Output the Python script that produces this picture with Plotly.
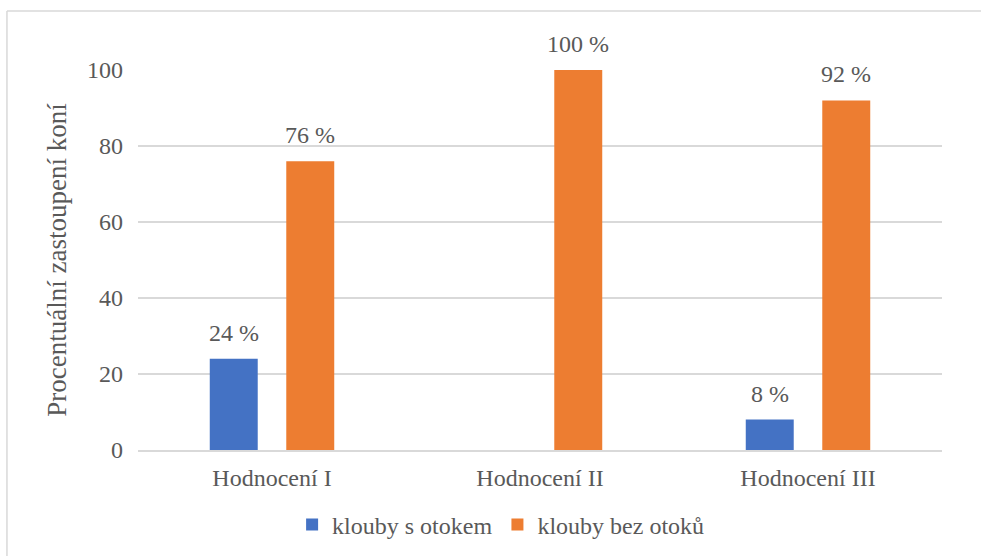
import plotly.graph_objects as go

categories = ["Hodnocení I", "Hodnocení II", "Hodnocení III"]
s_otokem = [24, 0, 8]
bez_otoku = [76, 100, 92]
series_names = ["klouby s otokem", "klouby bez otoků"]
y_ticks = [0, 20, 40, 60, 80, 100]

FONT = "Liberation Serif"
GRAY = "#595959"
GRID = "#d9d9d9"

fig = go.Figure()
fig.add_trace(go.Bar(x=categories, y=s_otokem, name=series_names[0],
                     marker=dict(color="#4472C4", line=dict(width=0))))
fig.add_trace(go.Bar(x=categories, y=bez_otoku, name=series_names[1],
                     marker=dict(color="#ED7D31", line=dict(width=0))))

annotations = []
for vals, shift in ((s_otokem, -38), (bez_otoku, 38)):
    for c, v in zip(categories, vals):
        if v == 0:
            continue
        annotations.append(dict(x=c, y=v, xref="x", yref="y", text=f"{v} %",
                                showarrow=False, xshift=shift, yanchor="bottom",
                                yshift=11, font=dict(family=FONT, size=24, color=GRAY)))

border = dict(color=GRID, width=1.5)
fig.update_layout(
    width=981, height=556,
    margin=dict(l=138, r=39, t=70, b=106, autoexpand=False),
    paper_bgcolor="white", plot_bgcolor="white",
    barmode="group", bargap=0.429, bargroupgap=0.373,
    font=dict(family=FONT, size=24, color=GRAY),
    showlegend=True,
    legend=dict(orientation="h", x=0.451, xanchor="center", y=-0.197, yanchor="middle",
                font=dict(family=FONT, size=24, color=GRAY), itemwidth=30),
    annotations=annotations,
    shapes=[
        dict(type="line", xref="paper", yref="paper", x0=-0.163, x1=-0.163,
             y0=-0.35, y1=1.155, line=border, layer="below"),
        dict(type="line", xref="paper", yref="paper", x0=-0.163, x1=1.1,
             y0=1.155, y1=1.155, line=border, layer="below"),
    ],
)
fig.update_yaxes(range=[0, 100], tickvals=y_ticks, showgrid=True, gridcolor=GRID, gridwidth=1.5,
                 zeroline=False, showline=False, ticks="", ticklabelstandoff=14, automargin=False,
                 title=dict(text="Procentuální zastoupení koní", font=dict(size=27), standoff=12),
                 tickfont=dict(size=24))
fig.update_xaxes(showline=True, linecolor=GRID, linewidth=1.5, ticks="", ticklabelstandoff=5,
                 automargin=False, tickfont=dict(size=24))

fig.write_html("out.html", post_script="document.body.style.margin='0';",
               config={"displayModeBar": False})
